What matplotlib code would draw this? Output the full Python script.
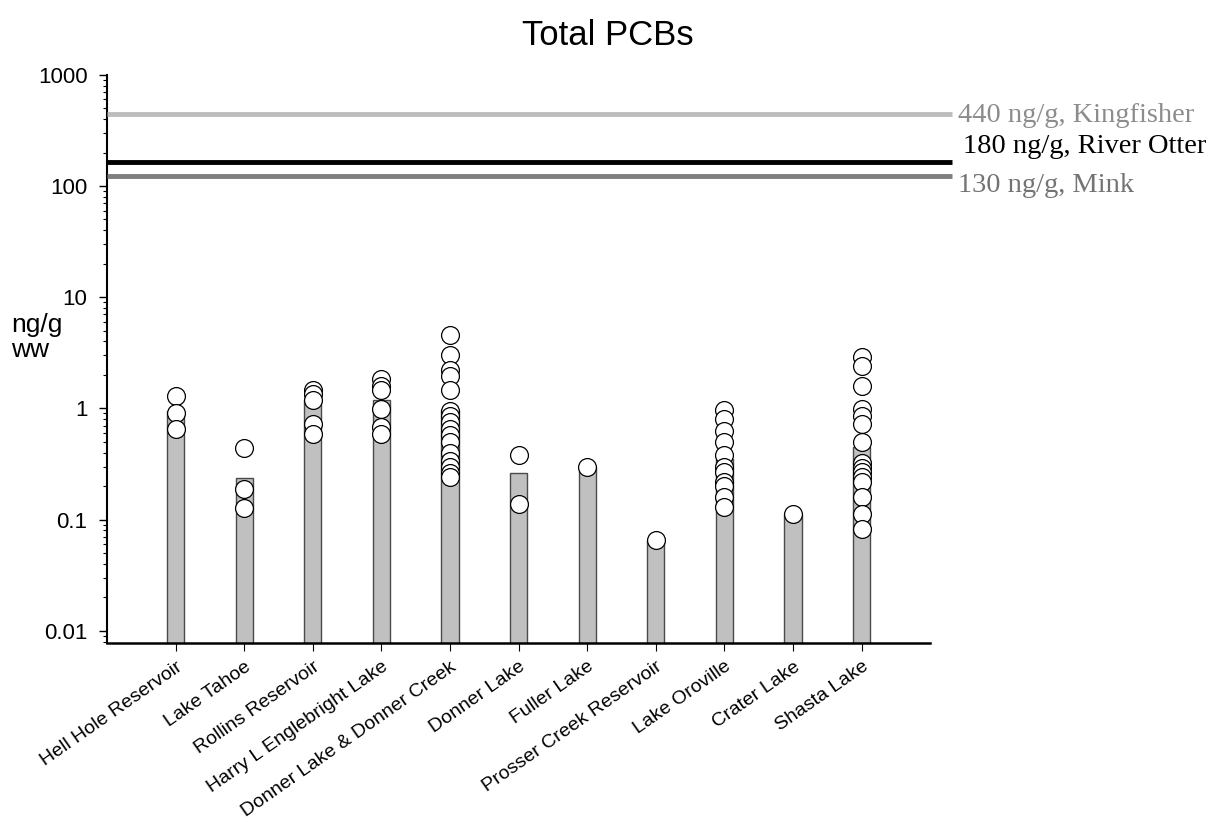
import numpy as np
import matplotlib
matplotlib.use("Agg")
import matplotlib.pyplot as plt

plt.rcParams['font.family'] = ['Liberation Sans', 'DejaVu Sans']

## Data ##
sites = ["Hell Hole Reservoir", "Lake Tahoe", "Rollins Reservoir", "Harry L Englebright Lake",
         "Donner Lake & Donner Creek", "Donner Lake", "Fuller Lake", "Prosser Creek Reservoir",
         "Lake Oroville", "Crater Lake", "Shasta Lake"]
site_means = [0.95, 0.235, 1.2, 1.2, 0.97, 0.26, 0.30, 0.066, 0.35, 0.112, 0.45]

hell_hole = [1.29, 0.91, 0.65]
tahoe = [0.44, 0.19, 0.126]
rollins = [1.45, 1.36, 1.2, 0.73, 0.59]
englebright = [1.85, 1.6, 1.45, 0.99, 0.68, 0.59]
donner_creek = [4.6, 3.0, 2.2, 1.95, 1.45, 0.95, 0.85, 0.75, 0.65, 0.58, 0.5, 0.4, 0.34, 0.3, 0.26, 0.24]
donner = [0.38, 0.138]
fuller = [0.30]
prosser = [0.066]
oroville = [0.96, 0.81, 0.63, 0.5, 0.38, 0.30, 0.27, 0.22, 0.2, 0.16, 0.13]
crater = [0.112]
shasta = [2.9, 2.4, 1.6, 0.99, 0.86, 0.72, 0.5, 0.32, 0.29, 0.27, 0.24, 0.22, 0.16, 0.112, 0.082]
samples = [hell_hole, tahoe, rollins, englebright, donner_creek, donner,
           fuller, prosser, oroville, crater, shasta]

# wildlife thresholds (line position, label)
thresh_values = [440, 165, 123]
thresh_labels = ["440 ng/g, Kingfisher", "180 ng/g, River Otter", "130 ng/g, Mink"]
thresh_colors = ["#bdbdbd", "black", "#7f7f7f"]
thresh_text_colors = ["#8c8c8c", "black", "#737373"]
thresh_offsets = [(4, -5.5), (8, 6.5), (4, -11.5)]  # points, relative to line end

fig = plt.figure(figsize=(12.16, 8.22), dpi=100)
ax = fig.add_axes([0.088, 0.218, 0.677, 0.691])

x = np.arange(len(sites))
ax.bar(x, site_means, width=0.25, color="#c0c0c0", edgecolor="#4a4a4a", linewidth=1.0, zorder=2)

for i, vals in enumerate(samples):
    ax.scatter(np.full(len(vals), x[i]), vals, s=165, facecolor="white",
               edgecolor="black", linewidth=0.9, zorder=3)

for v, lab, c, tc, off in zip(thresh_values, thresh_labels, thresh_colors,
                              thresh_text_colors, thresh_offsets):
    ax.plot([-1, 11.32], [v, v], color=c, linewidth=3.5, solid_capstyle="butt",
            clip_on=False, zorder=4)
    ax.annotate(lab, xy=(11.32, v), xytext=off, textcoords="offset points",
                ha="left", va="baseline", fontsize=20.5, color=tc,
                family=["Liberation Serif", "DejaVu Serif"], annotation_clip=False)

ax.set_yscale("log")
ax.set_ylim(0.0078, 1000)
ax.set_xlim(-1, 11)
ax.set_yticks([0.01, 0.1, 1, 10, 100, 1000])
ax.set_yticklabels(["0.01", "0.1", "1", "10", "100", "1000"])
ax.set_xticks(x)
ax.set_xticklabels(sites, rotation=35, ha="right", va="top", rotation_mode="anchor")

ax.tick_params(axis="y", which="major", direction="out", length=6, width=1, labelsize=16, pad=8)
ax.tick_params(axis="y", which="minor", direction="out", length=3, width=0.8)
ax.tick_params(axis="x", which="major", direction="out", length=6, width=0.8, labelsize=14, pad=5)

for s in ["top", "right"]:
    ax.spines[s].set_visible(False)
ax.spines["left"].set_linewidth(1.5)
ax.spines["bottom"].set_linewidth(1.8)

fig.text(0.009, 0.589, "ng/g\nww", fontsize=19, ha="left", va="center", linespacing=1.05)
fig.suptitle("Total PCBs", x=0.5, y=0.977, fontsize=25, va="top")

fig.savefig("out.png", dpi=100)
